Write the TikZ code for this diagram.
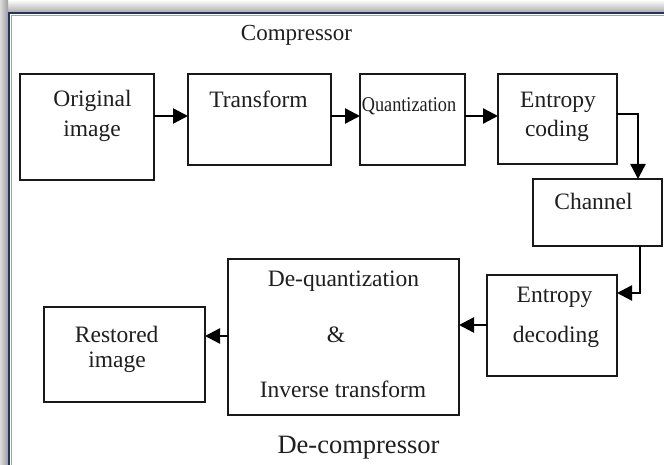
\documentclass[tikz,border=0pt]{standalone}
\usepackage{fontspec}
\setmainfont{Liberation Serif}
\usepackage{graphicx}
\usetikzlibrary{arrows.meta}
\definecolor{framenavy}{HTML}{1F3560}
\definecolor{framelight}{HTML}{8EA6CC}
\tikzset{
  box/.style={draw=black!90, line width=2.5pt, rectangle, inner sep=0pt, outer sep=0pt, fill=white},
  txt/.style={inner sep=0pt, outer sep=0pt, anchor=base, text=black!88, font=\fontsize{23.5}{28}\selectfont},
  arr/.style={draw=black, line width=2.4pt, -{Triangle[length=15pt, width=15pt]}}
}
\begin{document}
\begin{tikzpicture}[x=1pt, y=-1pt]
\useasboundingbox (0,0) rectangle (664,465);
\fill[white] (0,0) rectangle (664,465);
% window shadow and frame
\shade[top color=white, bottom color=black!32] (0,0) rectangle (664,12);
\shade[left color=black!14, right color=black!38] (0,12) rectangle (8,465);
\shade[top color=white, bottom color=black!32, left color=black!14, right color=black!38] (0,0) rectangle (8,12);
\draw[framelight, line width=1pt] (11.2,465) -- (11.2,15.2) -- (664,15.2);
\draw[framenavy, line width=2.4pt] (9,465) -- (9,13) -- (664,13);

% boxes
\node[box, minimum width=134pt, minimum height=106pt] (orig)  at (87,127) {};
\node[box, minimum width=143pt, minimum height=91pt]  (trans) at (259.5,119.5) {};
\node[box, minimum width=105pt, minimum height=91pt]  (quant) at (412.5,119.5) {};
\node[box, minimum width=119pt, minimum height=90pt]  (enc)   at (557.5,119) {};
\node[box, minimum width=129pt, minimum height=67pt]  (chan)  at (597.5,212.5) {};
\node[box, minimum width=130pt, minimum height=101pt] (dec)   at (552,325.5) {};
\node[box, minimum width=231pt, minimum height=156pt] (deq)   at (343.5,337) {};
\node[box, minimum width=161pt, minimum height=95pt]  (rest)  at (124.5,354.5) {};

% texts
\node[txt, font=\fontsize{23}{27}\selectfont] (tcomp) at (296.5,41) {Compressor};
\node[txt] (torig1) at (92.5,107) {Original};
\node[txt] (torig2) at (92,137) {image};
\node[txt] (ttrans) at (258.5,108) {Transform};
\node[txt, font=\fontsize{21}{25}\selectfont] (tquant) at (409,112) {\scalebox{0.87}[1]{Quantization}};
\node[txt] (tenc1) at (558,108) {Entropy};
\node[txt] (tenc2) at (557,137) {coding};
\node[txt] (tchan) at (593.5,210) {Channel};
\node[txt] (tdec1) at (554.5,302) {Entropy};
\node[txt] (tdec2) at (556,342) {decoding};
\node[txt] (tdeq1) at (343.5,286) {De-quantization};
\node[txt] (tdeq2) at (336,342) {\&};
\node[txt] (tdeq3) at (343,397) {Inverse transform};
\node[txt] (trest1) at (116.7,342) {Restored};
\node[txt] (trest2) at (117,367) {image};
\node[txt, font=\fontsize{26.5}{31}\selectfont] (tdecomp) at (358.5,453) {De-compressor};

% connectors
\draw[arr] (orig.east |- 0,116) -- (trans.west |- 0,116);
\draw[arr] (trans.east |- 0,116) -- (quant.west |- 0,116);
\draw[arr] (quant.east |- 0,116) -- (enc.west |- 0,116);
\draw[arr] (enc.east |- 0,114) -| (chan.north -| 638,0);
\draw[arr] (chan.south -| 640,0) |- (dec.east |- 0,293);
\draw[arr] (dec.west |- 0,325) -- (deq.east |- 0,325);
\draw[arr] (deq.west |- 0,336) -- (rest.east |- 0,336);
\end{tikzpicture}
\end{document}
